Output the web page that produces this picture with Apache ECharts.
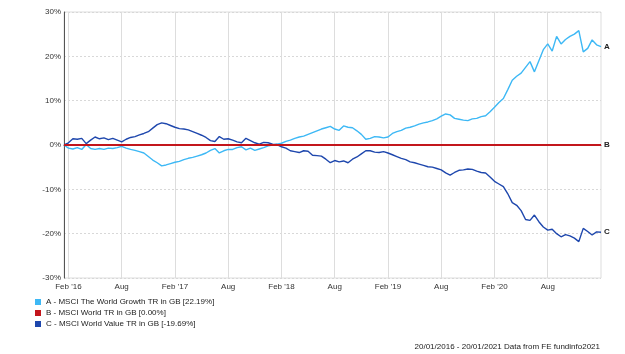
<!DOCTYPE html>
<html>
<head>
<meta charset="UTF-8">
<title></title>
<script src="https://cdn.jsdelivr.net/npm/echarts@6/dist/echarts.min.js"></script>
<style>
  html, body { margin: 0; padding: 0; background: #fff; }
  #main { width: 625px; height: 354px; }
</style>
</head>
<body>
<div id="main"></div>
<script>
// sample dates: 20/01/2016, then 1st and 15th of every month, then 20/01/2021
var startDate = '2016-01-20';
var endDate = '2021-01-20';

var growthA = [0, -0.7, -0.9, -0.6, -1.0, 0.1, -0.8, -1.0, -0.8, -1.0,
  -0.7, -0.8, -0.6, -0.3, -0.7, -1.0, -1.2, -1.5, -1.8, -2.6,
  -3.4, -4.0, -4.7, -4.5, -4.2, -3.9, -3.7, -3.3, -3.0, -2.8,
  -2.5, -2.2, -1.8, -1.2, -0.8, -1.8, -1.3, -1.0, -1.0, -0.6,
  -0.4, -1.1, -0.7, -1.2, -0.9, -0.6, -0.2, 0.0, 0.2, 0.4,
  0.8, 1.1, 1.5, 1.8, 2.0, 2.4, 2.8, 3.2, 3.6, 3.9,
  4.2, 3.6, 3.3, 4.3, 4.0, 3.9, 3.2, 2.4, 1.3, 1.5,
  1.9, 1.8, 1.6, 1.8, 2.6, 3.0, 3.3, 3.8, 4.0, 4.3,
  4.7, 5.0, 5.2, 5.5, 5.9, 6.5, 7.0, 6.8, 6.0, 5.8,
  5.6, 5.5, 5.9, 6.0, 6.4, 6.6, 7.5, 8.5, 9.6, 10.5,
  12.5, 14.6, 15.5, 16.2, 17.5, 18.8, 16.5, 19.0, 21.5, 22.8,
  21.2, 24.5, 22.8, 23.8, 24.5, 25.0, 25.8, 21.0, 21.8, 23.7,
  22.6, 22.19];

var worldB = [];
for (var k = 0; k < growthA.length; k++) worldB.push(0);

var valueC = [0, 0.5, 1.4, 1.3, 1.5, 0.3, 1.1, 1.8, 1.4, 1.6,
  1.2, 1.5, 1.1, 0.7, 1.3, 1.7, 1.9, 2.3, 2.6, 3.0,
  3.8, 4.6, 5.0, 4.8, 4.4, 4.0, 3.7, 3.6, 3.4, 3.0,
  2.6, 2.2, 1.7, 1.0, 0.8, 1.9, 1.3, 1.4, 1.1, 0.7,
  0.5, 1.5, 1.0, 0.5, 0.2, 0.6, 0.5, 0.2, 0.1, -0.4,
  -0.7, -1.3, -1.5, -1.7, -1.3, -1.4, -2.3, -2.4, -2.5, -3.2,
  -4.0, -3.5, -3.8, -3.6, -4.0, -3.2, -2.7, -2.0, -1.3, -1.3,
  -1.6, -1.7, -1.5, -1.8, -2.2, -2.6, -3.0, -3.3, -3.8, -4.0,
  -4.3, -4.6, -4.9, -5.0, -5.3, -5.6, -6.3, -6.8, -6.2, -5.7,
  -5.6, -5.4, -5.5, -5.9, -6.2, -6.3, -7.2, -8.2, -8.8, -9.4,
  -11.0, -13.0, -13.6, -14.8, -16.8, -17.0, -15.8, -17.3, -18.5, -19.2,
  -19.0, -20.0, -20.7, -20.2, -20.5, -21.0, -21.8, -18.8, -19.5, -20.3,
  -19.6, -19.69];

var seriesNames = [
  'A - MSCI The World Growth TR in GB [22.19%]',
  'B - MSCI World TR in GB [0.00%]',
  'C - MSCI World Value TR in GB [-19.69%]'
];
var endTags = ['A', 'B', 'C'];
var colors = ['#3db8f5', '#c3161c', '#1e47ad'];

function pad(n) { return n < 10 ? '0' + n : '' + n; }
var dates = [startDate];
for (var y = 2016; y <= 2021; y++) {
  for (var m = 1; m <= 12; m++) {
    if (y === 2016 && m < 2) continue;
    if (y === 2021 && m > 1) continue;
    dates.push(y + '-' + pad(m) + '-01');
    dates.push(y + '-' + pad(m) + '-15');
  }
}
dates.push(endDate);

function isTick(idx, val) {
  return /-(02|08)-01$/.test(val);
}

var chart = echarts.init(document.getElementById('main'));
var allData = [growthA, worldB, valueC];
var series = [];
// red zero line sits on top of the two blue lines
var order = [0, 2, 1];
order.forEach(function (i) {
  series.push({
    name: seriesNames[i],
    type: 'line',
    data: allData[i],
    symbol: 'none',
    z: i === 1 ? 5 : 3,
    lineStyle: { color: colors[i], width: i === 1 ? 2 : 1.4 },
    itemStyle: { color: colors[i] },
    endLabel: {
      show: true,
      formatter: endTags[i],
      fontSize: 8,
      fontWeight: 'bold',
      color: '#222',
      distance: 3,
      fontFamily: 'Liberation Sans'
    }
  });
});

chart.setOption({
  animation: false,
  textStyle: { fontFamily: 'Liberation Sans' },
  color: colors,
  grid: {
    left: 64, right: 24, top: 12, bottom: 76,
    show: true, borderColor: '#dddddd', borderWidth: 1
  },
  legend: {
    data: seriesNames,
    orient: 'vertical',
    left: 30,
    top: 293,
    icon: 'rect',
    itemWidth: 6,
    itemHeight: 6,
    itemGap: 3,
    textStyle: { fontSize: 8, color: '#222' }
  },
  title: {
    text: '20/01/2016 - 20/01/2021 Data from FE fundinfo2021',
    right: 20,
    top: 338,
    textStyle: { fontSize: 8, fontWeight: 'normal', color: '#222' }
  },
  xAxis: {
    type: 'category',
    data: dates,
    boundaryGap: false,
    axisLine: { lineStyle: { color: '#555', width: 1 } },
    axisTick: { show: false },
    axisLabel: {
      interval: isTick,
      fontSize: 8,
      color: '#333',
      margin: 5,
      formatter: function (v) {
        var yy = v.slice(2, 4);
        return v.slice(5, 7) === '02' ? "Feb '" + yy : 'Aug';
      }
    },
    splitLine: { show: true, interval: isTick, lineStyle: { color: '#dddddd', width: 1 } }
  },
  yAxis: {
    type: 'value',
    min: -30,
    max: 30,
    interval: 10,
    axisLine: { show: true, lineStyle: { color: '#555', width: 1 } },
    axisTick: { show: false },
    axisLabel: { fontSize: 8, color: '#333', margin: 3, formatter: '{value}%' },
    splitLine: { lineStyle: { color: '#d8d8d8', type: [2, 2] } }
  },
  series: series
});
</script>
</body>
</html>
